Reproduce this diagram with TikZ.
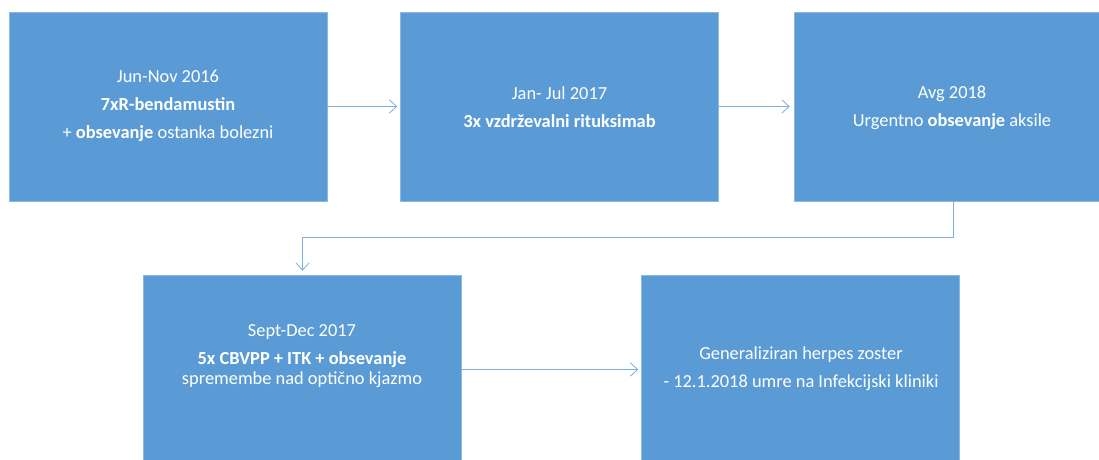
\documentclass[tikz,border=0pt]{standalone}
\usepackage{fontspec}
\setmainfont{Carlito}
\usepackage{tikz}
\usetikzlibrary{arrows.meta,positioning,calc}
\definecolor{modra}{HTML}{5B9BD5}
\definecolor{svetla}{HTML}{7FB0DE}
\tikzset{
  kos/.style={rectangle, fill=modra, draw=modra!70!white, line width=0.4pt,
    minimum width=318*0.03cm, minimum height=189*0.03cm, inner sep=0pt},
  besedilo/.style={text=white, align=center, font=\fontsize{15.7}{24}\selectfont, inner sep=0pt},
  puscica/.style={-{Straight Barb[length=2.2mm,width=4mm,line width=0.7pt]}, draw=svetla, line width=0.8pt},
}

\begin{document}
\begin{tikzpicture}[x=0.03cm, y=-0.03cm]
    \clip (0,0) rectangle (1099,460);
    \node[kos] (k1) at (168,106.5) {};
    \node[kos] (k2) at (559.5,106.5) {};
    \node[kos] (k3) at (953,106.5) {};
    \node[kos] (k4) at (302.5,369.5) {};
    \node[kos] (k5) at (800.5,369.5) {};
    \node[besedilo] (t1) at (168,106) {Jun-Nov 2016\\ \textbf{7xR-bendamustin}\\ + \textbf{obsevanje} ostanka bolezni};
    \node[besedilo] (t2) at (559.5,107.5) {Jan- Jul 2017\\ \textbf{3x vzdrževalni rituksimab}};
    \node[besedilo] (t3) at (952,107.5) {Avg 2018\\ Urgentno \textbf{obsevanje} aksile};
    \node[besedilo] (t4) at (302,356.5) {Sept-Dec 2017\\ \textbf{5x CBVPP + ITK + obsevanje}\\[-7pt] spremembe nad optično kjazmo};
    \node[besedilo] (t5) at (801,369) {Generaliziran herpes zoster\\ - 12.1.2018 umre na Infekcijski kliniki};
    \draw[puscica, shorten >=3*0.03cm] (k1.east) -- (k2.west);
    \draw[puscica, shorten >=4*0.03cm] (k2.east) -- (k3.west);
    \draw[puscica, shorten >=4*0.03cm] (k3.south) -- ++(0,36) -| (k4.north);
    \draw[puscica, shorten >=3*0.03cm] (k4.east) -- (k5.west);
  \end{tikzpicture}
\end{document}
